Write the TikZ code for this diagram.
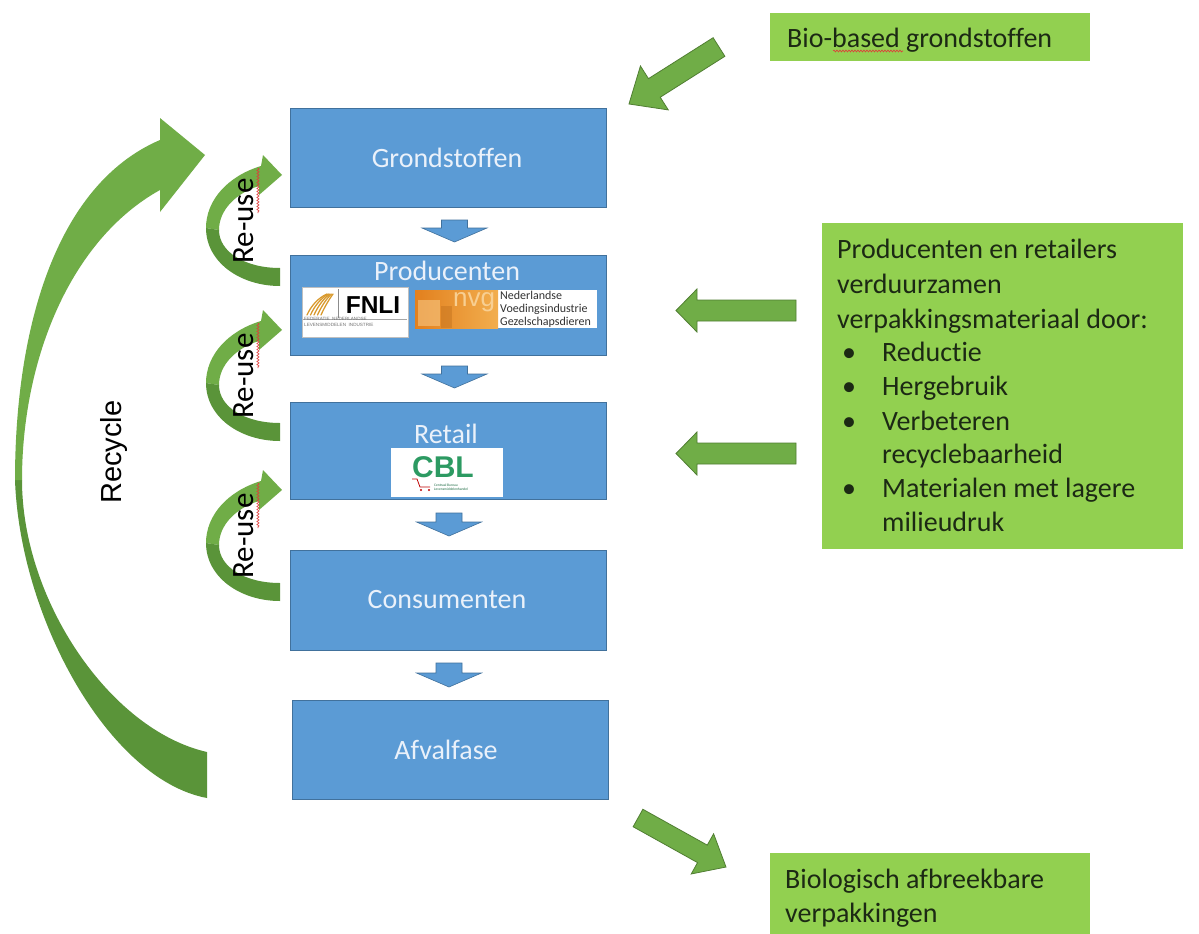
\documentclass[tikz,border=0pt]{standalone}
\usepackage{fontspec}
\setmainfont{Carlito}[Ligatures=NoCommon]
\newfontfamily\arialf{Liberation Sans}
\usetikzlibrary{calc,decorations.pathmorphing}

\definecolor{boxblue}{HTML}{5B9BD5}
\definecolor{boxblueline}{HTML}{41719C}
\definecolor{boxtext}{HTML}{EAF1FA}
\definecolor{lightgreen}{HTML}{92D050}
\definecolor{arrowgreen}{HTML}{70AD47}
\definecolor{arrowgreenline}{HTML}{507E32}
\definecolor{darkgreen}{HTML}{5A9439}
\definecolor{darktext}{HTML}{1C2914}
\definecolor{squig}{HTML}{E03A3A}
\definecolor{wheat}{HTML}{D99A2E}
\definecolor{orngA}{HTML}{E2801E}
\definecolor{orngB}{HTML}{F2AE4E}
\definecolor{nvgtext}{HTML}{F8CF92}
\definecolor{cblgreen}{HTML}{2C9A62}

\newcommand{\blockarr}[6]{% #1 style, #2 tail, #3 tip, #4 half shaft, #5 half head, #6 head length
  \coordinate (baB) at ($(#3)!#6!(#2)$);
  \path[#1] ($(#2)!#4!90:(#3)$) -- ($(baB)!#4!-90:(#2)$) -- ($(baB)!#5!-90:(#2)$) -- (#3)
     -- ($(baB)!#5!90:(#2)$) -- ($(baB)!#4!90:(#2)$) -- ($(#2)!#4!-90:(#3)$) -- cycle;
}

\tikzset{
  stage/.style={draw=boxblueline, line width=1.2pt, fill=boxblue, minimum width=316pt,
    minimum height=99pt, anchor=north west, inner sep=0pt},
  lbl/.style={text=boxtext, font=\fontsize{28}{34}\selectfont, inner sep=0pt, anchor=base},
  gbox/.style={fill=lightgreen, anchor=north west, inner sep=0pt},
  gtext/.style={text=darktext, font=\fontsize{28}{34}\selectfont, inner sep=0pt, anchor=base west},
  garrow/.style={fill=arrowgreen, draw=arrowgreenline, line width=0.8pt},
  barrow/.style={fill=boxblue, draw=boxblueline, line width=0.6pt},
  wavy/.style={draw=squig, line width=0.6pt, decorate,
    decoration={snake, amplitude=1.1pt, segment length=3pt}},
  reuse/.style={text=black, font=\fontsize{31}{34}\selectfont, inner sep=0pt, anchor=base, rotate=90},
}

\begin{document}
\begin{tikzpicture}[x=1pt,y=-1pt]
\useasboundingbox (0,0) rectangle (1199,934);
\fill[white] (0,0) rectangle (1199,934);

% ---------- Recycle arrow ----------
\fill[darkgreen] (207,798) .. controls (110,780) and (20,620) .. (15,480)
   -- (22,480) .. controls (22,600) and (110,730) .. (207,752) -- cycle;
\fill[arrowgreen] (15,480) .. controls (15,330) and (55,185) .. (160,140)
   -- (160,118) -- (205,155) -- (160,212) -- (160,190)
   .. controls (70,240) and (22,360) .. (22,480) -- cycle;
\node[text=black, font=\arialf\fontsize{29}{32}\selectfont, inner sep=0pt, anchor=base, rotate=90]
   (rec) at (121,452) {Recycle};

% ---------- Re-use arrows ----------
\foreach \dy/\nm in {0/ru1,155/ru2,315/ru3}{
  \begin{scope}[yshift=-\dy pt]
    \fill[arrowgreen] (206,228) .. controls (206,200) and (228,176) .. (261,166)
       -- (263,155) -- (282,175) -- (259,195) -- (259,186)
       .. controls (236,193) and (219,210) .. (219,230) -- cycle;
    \fill[darkgreen] (206,228) .. controls (206,262) and (240,286) .. (280,286)
       -- (280,268) .. controls (245,268) and (219,252) .. (219,230) -- cycle;
    \node[reuse] (\nm) at (253,221) {Re-use};
    \path[wavy] (258,168) -- (258,213);
  \end{scope}
}

% ---------- Stage boxes ----------
\node[stage] (g) at (290,108) {};
\node[stage, minimum height=100pt] (p) at (290,255) {};
\node[stage, minimum height=97pt] (r) at (290,402) {};
\node[stage, minimum height=100pt] (c) at (290,550) {};
\node[stage] (a) at (292,700) {};

\node[lbl] (gt) at (447,167) {Grondstoffen};
\node[lbl] (pt) at (447,280) {Producenten};
\node[lbl] (rt) at (446,443) {Retail};
\node[lbl] (ct) at (447,608) {Consumenten};
\node[lbl] (at) at (446,759) {Afvalfase};

% ---------- FNLI logo ----------
\node[fill=white, draw=black!25, line width=0.4pt, minimum width=106pt, minimum height=50pt,
  anchor=north west, inner sep=0pt] (fnli) at (302,287) {};
\foreach \i in {0,...,4}{
  \draw[wheat, line width=1.3pt, line cap=round]
     (307+\i*3.5,315) .. controls (311+\i*3.5,306) and (318+\i*3,298) .. (327+\i*1.5,294);
}
\draw[black!45, line width=0.5pt] (338,289) -- (338,318);
\draw[black!35, line width=0.5pt] (303,319) -- (407,319);
\node[font=\arialf\bfseries\fontsize{24.5}{26}\selectfont, text=black, inner sep=0pt, anchor=base]
  (fnlit) at (373,313) {FNLI};
\node[font=\arialf\fontsize{4.6}{5.6}\selectfont, text=black!55, inner sep=0pt, anchor=base west,
  align=left] (fnlis) at (304,326) {FEDERATIE \ NEDERLANDSE\\LEVENSMIDDELEN \ INDUSTRIE};

% ---------- NVG logo ----------
\node[fill=white, minimum width=182pt, minimum height=38pt, anchor=north west, inner sep=0pt]
  (nvg) at (415,290) {};
\begin{scope}
  \clip (415,290) rectangle (498,328);
  \shade[left color=orngA, right color=orngB] (415,290) rectangle (498,328);
  \fill[orngB!70!white, opacity=0.6] (418,300) rectangle (440,326);
  \fill[orngA!80!black, opacity=0.35] (441,306) rectangle (452,328);
  \node[font=\arialf\fontsize{26}{28}\selectfont, text=nvgtext, inner sep=0pt, anchor=base,
    text height=14pt, text depth=5pt] (nvgt) at (474,306) {nvg};
\end{scope}
\node[font=\fontsize{12}{13}\selectfont, text=black!80, inner sep=0pt, anchor=base west]
  (nvg1) at (500,299) {Nederlandse};
\node[font=\fontsize{12}{13}\selectfont, text=black!80, inner sep=0pt, anchor=base west]
  (nvg2) at (500,312) {Voedingsindustrie};
\node[font=\fontsize{12}{13}\selectfont, text=black!80, inner sep=0pt, anchor=base west]
  (nvg3) at (500,325) {Gezelschapsdieren};

% ---------- CBL logo ----------
\node[fill=white, minimum width=112pt, minimum height=49pt, anchor=north west, inner sep=0pt]
  (cbl) at (391,448) {};
\node[font=\arialf\bfseries\fontsize{30}{32}\selectfont, text=cblgreen, inner sep=0pt, anchor=base,
  text depth=0pt] (cblt) at (443,477) {CBL};
\draw[red!75!black, line width=0.8pt] (412,479) -- (417,479) -- (420,487) -- (430,487);
\fill[red!75!black] (421,490) circle (1.2pt) (429,490) circle (1.2pt);
\node[font=\fontsize{3.6}{4.2}\selectfont, text=cblgreen!70!black, inner sep=0pt, anchor=base west,
  align=left] (cbls) at (434,490.5) {Centraal Bureau\\Levensmiddelenhandel};

% ---------- Blue down arrows ----------
\coordinate (a1T) at (454.5,220); \coordinate (a1P) at (454.5,242);
\coordinate (a2T) at (454.5,366); \coordinate (a2P) at (454.5,388);
\coordinate (a3T) at (449,513);   \coordinate (a3P) at (449,536);
\coordinate (a4T) at (449,663);   \coordinate (a4P) at (449,687);
\blockarr{barrow}{a1T}{a1P}{13pt}{32.5pt}{14pt}
\blockarr{barrow}{a2T}{a2P}{13pt}{32.5pt}{14pt}
\blockarr{barrow}{a3T}{a3P}{13pt}{32.5pt}{14pt}
\blockarr{barrow}{a4T}{a4P}{13pt}{32.5pt}{14pt}

% ---------- Green boxes ----------
\node[gbox, minimum width=320pt, minimum height=48pt] (bio) at (770,13) {};
\node[gtext] (biot) at (787,48) {Bio-based grondstoffen};
\path[wavy, decoration={snake, amplitude=1pt, segment length=3pt}] (833,51) -- (903,51);

\node[gbox, minimum width=361pt, minimum height=326pt] (lst) at (822,223) {};
\node[gtext] (l1) at (837,258) {Producenten en retailers};
\node[gtext] (l2) at (837,293) {verduurzamen};
\node[gtext] (l3) at (837,328) {verpakkingsmateriaal door:};
\node[gtext] (b1) at (842,361) {\textbullet};
\node[gtext] (l4) at (882,361) {Reductie};
\node[gtext] (b2) at (842,395) {\textbullet};
\node[gtext] (l5) at (882,395) {Hergebruik};
\node[gtext] (b3) at (842,430) {\textbullet};
\node[gtext] (l6) at (882,430) {Verbeteren};
\node[gtext] (l7) at (882,463) {recyclebaarheid};
\node[gtext] (b4) at (842,497) {\textbullet};
\node[gtext] (l8) at (882,497) {Materialen met lagere};
\node[gtext] (l9) at (882,531) {milieudruk};

\node[gbox, minimum width=320pt, minimum height=90pt] (bioafb) at (770,853) {};
\node[gtext] (bat1) at (785,888) {Biologisch afbreekbare};
\node[gtext] (bat2) at (785,922) {verpakkingen};

% ---------- Green straight arrows ----------
\coordinate (bioT) at (719,47);  \coordinate (bioP) at (629,104);
\blockarr{garrow}{bioT}{bioP}{11pt}{26pt}{30pt}
\coordinate (ra1T) at (796,310.5); \coordinate (ra1P) at (676,310.5);
\blockarr{garrow}{ra1T}{ra1P}{10.5pt}{21.5pt}{21pt}
\coordinate (ra2T) at (796,453.5); \coordinate (ra2P) at (676,453.5);
\blockarr{garrow}{ra2T}{ra2P}{10.5pt}{21.5pt}{21pt}
\coordinate (bdT) at (638,818);  \coordinate (bdP) at (726,867);
\blockarr{garrow}{bdT}{bdP}{10pt}{23pt}{27pt}

\end{tikzpicture}
\end{document}
